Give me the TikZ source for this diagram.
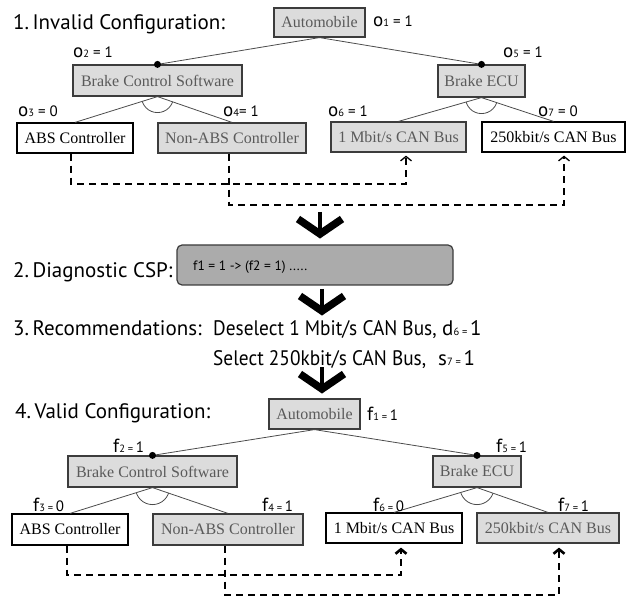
\documentclass[tikz,border=0pt]{standalone}
\usepackage{fontspec}
\setmainfont{Liberation Serif}
\setsansfont{PT Sans}
\usetikzlibrary{arrows.meta}
\definecolor{boxgray}{HTML}{DCDCDC}
\definecolor{txtgray}{HTML}{5A5A5A}
\definecolor{cspgray}{HTML}{ABABAB}
\definecolor{edgegray}{HTML}{3C3C3C}
\newcommand\idx[1]{{\fontsize{10.5}{10.5}\selectfont #1}}
\newcommand\bigo{{\fontsize{19}{19}\selectfont o}}
\newcommand\bigf{{\fontsize{19}{19}\selectfont f}}
\begin{document}
\begin{tikzpicture}[x=1pt,y=-1pt,
  feat/.style={line width=1.2pt, inner sep=0pt, font=\fontsize{16}{16}\selectfont},
  sel/.style={feat, draw=edgegray, fill=boxgray, text=txtgray},
  unsel/.style={feat, draw=black, fill=white, text=black},
  lbl/.style={anchor=base west, inner sep=0pt, font=\sffamily\fontsize{15}{15}\selectfont},
  title/.style={anchor=base west, inner sep=0pt, font=\sffamily\fontsize{21}{21}\selectfont},
  tree/.style={draw=black!70, line width=0.8pt},
  dep/.style={line width=1.9pt, dash pattern=on 7pt off 5pt},
  tipA/.style={-{Straight Barb[length=4.5pt,width=11pt,line width=1.3pt]}},
  tipB/.style={-{Straight Barb[length=4.5pt,width=11pt,line width=2.6pt]}},
  stemline/.style={line width=4.5pt},
  armline/.style={line width=7.5pt, miter limit=10},
  csp/.style={draw=edgegray, fill=cspgray, line width=1.2pt, rounded corners=5pt, inner sep=0pt}
]
\useasboundingbox (0,0) rectangle (631,601);

% ---------- 1. Invalid configuration ----------
\node[title] (t1) at (13,30) {1.\,Invalid Configuration:};
\node[sel, minimum width=91pt, minimum height=29pt] (auto1) at (319.5,22.5) {Automobile};
\node[sel, minimum width=169pt, minimum height=31pt] (bcs1) at (157.5,80.5) {Brake Control Software};
\node[sel, minimum width=87pt, minimum height=32pt] (ecu1) at (481.5,81) {Brake ECU};
\node[unsel, minimum width=116pt, minimum height=30pt] (abs1) at (75,138) {ABS Controller};
\node[sel, minimum width=148pt, minimum height=30pt] (nabs1) at (232,138) {Non-ABS Controller};
\node[sel, minimum width=135pt, minimum height=30pt] (cana1) at (398.5,137) {1 Mbit/s CAN Bus};
\node[unsel, minimum width=143pt, minimum height=30pt] (canb1) at (553.5,137) {250kbit/s CAN Bus};

\draw[tree] (auto1.south) -- (bcs1.north);
\draw[tree] (auto1.south) -- (ecu1.north);
\fill (bcs1.north) circle (3.5pt);
\fill (ecu1.north) circle (3.5pt);
\draw[tree] (bcs1.south) -- (abs1.north);
\draw[tree] (bcs1.south) -- (nabs1.north);
\draw[tree] (ecu1.south) -- (cana1.north);
\draw[tree] (ecu1.south) -- (canb1.north);
\begin{scope}
  \clip (bcs1.south) -- (abs1.north) -- (nabs1.north) -- cycle;
  \draw[tree] (bcs1.south) circle (16pt);
\end{scope}
\begin{scope}
  \clip (ecu1.south) -- (cana1.north) -- (canb1.north) -- cycle;
  \draw[tree] (ecu1.south) circle (16pt);
\end{scope}

\node[lbl] (o1) at (373,27) {\bigo\idx{1} = 1};
\node[lbl] (o2) at (73,58) {\bigo\idx{2} = 1};
\node[lbl] (o5) at (503,58) {\bigo\idx{5} = 1};
\node[lbl] (o3) at (18,117) {\bigo\idx{3} = 0};
\node[lbl] (o4) at (223,117) {\bigo\idx{4}= 1};
\node[lbl] (o6) at (328,117) {\bigo\idx{6} = 1};
\node[lbl] (o7) at (538,117) {\bigo\idx{7} = 0};

\draw[dep, tipA, shorten >=3pt] ([xshift=-4pt]abs1.south) -- ++(0,30) -| ([xshift=7.5pt]cana1.south);
\draw[dep, tipA, shorten >=3pt] ([xshift=-3pt]nabs1.south) -- ++(0,51) -| ([xshift=10.5pt]canb1.south);

% ---------- chevron 1 ----------
\coordinate (k1top) at (320,212);
\coordinate (k1) at (320,234);
\draw[stemline] (k1top) -- (k1);
\draw[armline] ([shift={(-22,-15)}]k1) -- (k1) -- ([shift={(22,-15)}]k1);

% ---------- 2. Diagnostic CSP ----------
\node[title] (t2) at (13,277) {2.\,Diagnostic CSP:};
\node[csp, minimum width=276pt, minimum height=40pt] (csp) at (315,265) {};
\node[anchor=base west, inner sep=0pt, font=\sffamily\fontsize{13.5}{13.5}\selectfont] (cspt) at (193,271) {f1 = 1 -> (f2 = 1) .....};

% ---------- chevron 2 ----------
\coordinate (k2top) at (322,289);
\coordinate (k2) at (322,311);
\draw[stemline] (k2top) -- (k2);
\draw[armline] ([shift={(-22,-15)}]k2) -- (k2) -- ([shift={(22,-15)}]k2);

% ---------- 3. Recommendations ----------
\node[title] (t3) at (13,335) {3.\,Recommendations:};
\node[title] (r1) at (213,335) {\scalebox{0.92}[1]{Deselect 1 Mbit/s CAN Bus,}};
\node[title] (r1v) at (442,335) {d\idx{6 = }1};
\node[title] (r2) at (213,365) {\scalebox{0.92}[1]{Select 250kbit/s CAN Bus,}};
\node[title] (r2v) at (438,365) {s\idx{7 = }1};

% ---------- chevron 3 ----------
\coordinate (k3top) at (322,367);
\coordinate (k3) at (322,389);
\draw[stemline] (k3top) -- (k3);
\draw[armline] ([shift={(-22,-15)}]k3) -- (k3) -- ([shift={(22,-15)}]k3);

% ---------- 4. Valid configuration ----------
\node[title] (t4) at (15,418) {4.\,Valid Configuration:};
\node[sel, minimum width=91pt, minimum height=30pt] (auto2) at (314.5,414) {Automobile};
\node[sel, minimum width=169pt, minimum height=31pt] (bcs2) at (152.5,471.5) {Brake Control Software};
\node[sel, minimum width=88pt, minimum height=31pt] (ecu2) at (477,471.5) {Brake ECU};
\node[unsel, minimum width=116pt, minimum height=31pt] (abs2) at (70,529.5) {ABS Controller};
\node[sel, minimum width=150pt, minimum height=31pt] (nabs2) at (228,529.5) {Non-ABS Controller};
\node[unsel, minimum width=136pt, minimum height=30pt] (cana2) at (394,528) {1 Mbit/s CAN Bus};
\node[sel, minimum width=142pt, minimum height=30pt] (canb2) at (548,528) {250kbit/s CAN Bus};

\draw[tree] (auto2.south) -- (bcs2.north);
\draw[tree] (auto2.south) -- (ecu2.north);
\fill (bcs2.north) circle (3.5pt);
\fill (ecu2.north) circle (3.5pt);
\draw[tree] (bcs2.south) -- (abs2.north);
\draw[tree] (bcs2.south) -- (nabs2.north);
\draw[tree] (ecu2.south) -- (cana2.north);
\draw[tree] (ecu2.south) -- (canb2.north);
\begin{scope}
  \clip (bcs2.south) -- (abs2.north) -- (nabs2.north) -- cycle;
  \draw[tree] (bcs2.south) circle (17pt);
\end{scope}
\begin{scope}
  \clip (ecu2.south) -- (cana2.north) -- (canb2.north) -- cycle;
  \draw[tree] (ecu2.south) circle (17pt);
\end{scope}

\node[lbl] (f1) at (367,420) {\bigf\idx{1 = }1};
\node[lbl] (f2) at (113,452) {\bigf\idx{2 = }1};
\node[lbl] (f5) at (496,452) {\bigf\idx{5 = }1};
\node[lbl] (f3) at (33,511) {\bigf\idx{3 = }0};
\node[lbl] (f4) at (262,511) {\bigf\idx{4 = }1};
\node[lbl] (f6) at (373,511) {\bigf\idx{6 = }0};
\node[lbl] (f7) at (558,511) {\bigf\idx{7 = }1};

\draw[dep, tipB, shorten >=4pt] ([xshift=-3pt]abs2.south) -- ++(0,29) -| ([xshift=7pt]cana2.south);
\draw[dep, tipB, shorten >=4pt] ([xshift=-3pt]nabs2.south) -- ++(0,49) -| ([xshift=11pt]canb2.south);
\end{tikzpicture}
\end{document}
